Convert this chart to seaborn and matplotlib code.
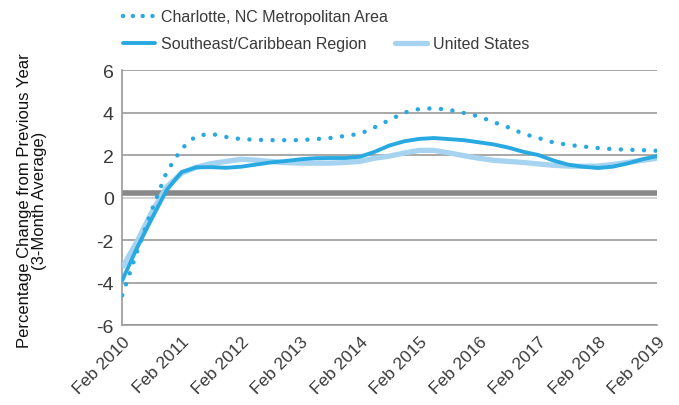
import numpy as np
import pandas as pd
import seaborn as sns
import matplotlib.pyplot as plt
from matplotlib.lines import Line2D

# quarterly readings, Feb 2010 .. Feb 2019
dates = pd.date_range("2010-02-01", periods=37, freq="3MS")

charlotte = [-4.6, -2.6, -0.6, 1.2, 2.3, 2.9, 3.0, 2.85, 2.75, 2.72, 2.7, 2.7, 2.7,
             2.75, 2.8, 2.9, 3.0, 3.3, 3.65, 4.0, 4.17, 4.2, 4.13, 3.98, 3.82, 3.55,
             3.3, 3.0, 2.8, 2.6, 2.48, 2.4, 2.33, 2.28, 2.25, 2.23, 2.2]
southeast = [-3.9, -2.4, -1.0, 0.35, 1.2, 1.42, 1.43, 1.4, 1.45, 1.55, 1.65, 1.72, 1.8,
             1.85, 1.86, 1.86, 1.92, 2.15, 2.45, 2.65, 2.76, 2.8, 2.75, 2.7, 2.6, 2.5,
             2.35, 2.15, 2.0, 1.75, 1.55, 1.45, 1.39, 1.45, 1.6, 1.8, 1.95]
united_states = [-3.3, -2.1, -0.7, 0.5, 1.15, 1.42, 1.6, 1.7, 1.8, 1.76, 1.7, 1.64, 1.62,
                 1.62, 1.62, 1.65, 1.7, 1.85, 1.95, 2.1, 2.22, 2.22, 2.1, 1.97, 1.85, 1.75,
                 1.7, 1.65, 1.58, 1.52, 1.48, 1.47, 1.48, 1.55, 1.65, 1.75, 1.85]

tick_dates = pd.date_range("2010-02-01", "2019-02-01", freq="12MS")
tick_labels = [f"Feb {d.year}" for d in tick_dates]
y_ticks = [-6, -4, -2, 0, 2, 4, 6]

dark_blue = "#29a9e1"
light_blue = "#a6d3f0"
text_col = "#3a3a3a"

sns.set_style("white")
plt.rcParams["font.family"] = ["Liberation Sans", "DejaVu Sans"]

fig = plt.figure(figsize=(6.79, 4.06), dpi=100)
ax = fig.add_axes([0.18, 0.197, 0.788, 0.628])

for y in y_ticks:
    ax.axhline(y, color="#cccccc" if y == 0 else "#999999", lw=1.2, zorder=0)
ax.axhline(0.2, color="#888888", lw=4, zorder=1)

sns.lineplot(x=dates, y=united_states, ax=ax, color=light_blue, lw=3.8,
             solid_capstyle="butt", zorder=3)
sns.lineplot(x=dates, y=southeast, ax=ax, color=dark_blue, lw=2.8, zorder=4)
sns.lineplot(x=dates, y=charlotte, ax=ax, color=dark_blue, lw=3.2,
             linestyle=(0, (0.01, 2.6)), dash_capstyle="round", zorder=5)

ax.set_xlim(dates[0], dates[-1])
ax.set_ylim(-6, 6)
ax.set_yticks(y_ticks)
ax.set_yticklabels([str(v) for v in y_ticks], fontsize=14, color=text_col)
ax.set_xticks(tick_dates)
ax.set_xticklabels(tick_labels, rotation=45, ha="right", rotation_mode="anchor",
                   fontsize=12.5, color=text_col)
ax.tick_params(axis="both", length=0, pad=6)
ax.set_xlabel("")

for s in ["top", "right"]:
    ax.spines[s].set_visible(False)
for s in ["left", "bottom"]:
    ax.spines[s].set_color("#999999")
    ax.spines[s].set_linewidth(1.2)

ax.set_ylabel("Percentage Change from Previous Year\n(3-Month Average)",
              fontsize=12, color="#111111", linespacing=1.0)
ax.yaxis.set_label_coords(-0.14, 0.49)

handles = [
    Line2D([], [], color=dark_blue, lw=3.2, linestyle=(0, (0.01, 2.2)), dash_capstyle="round"),
    Line2D([], [], color=dark_blue, lw=2.8),
    Line2D([], [], color="none"),
    Line2D([], [], color=light_blue, lw=3.8),
]
labels = ["Charlotte, NC Metropolitan Area", "Southeast/Caribbean Region", "", "United States"]
fig.legend(handles, labels, ncol=2, loc="upper left", bbox_to_anchor=(0.16, 1.01),
           frameon=False, fontsize=11.5, handlelength=2.0, handletextpad=0.35,
           columnspacing=0.5, labelspacing=0.75, labelcolor=text_col)

fig.savefig("out.png", dpi=100)
